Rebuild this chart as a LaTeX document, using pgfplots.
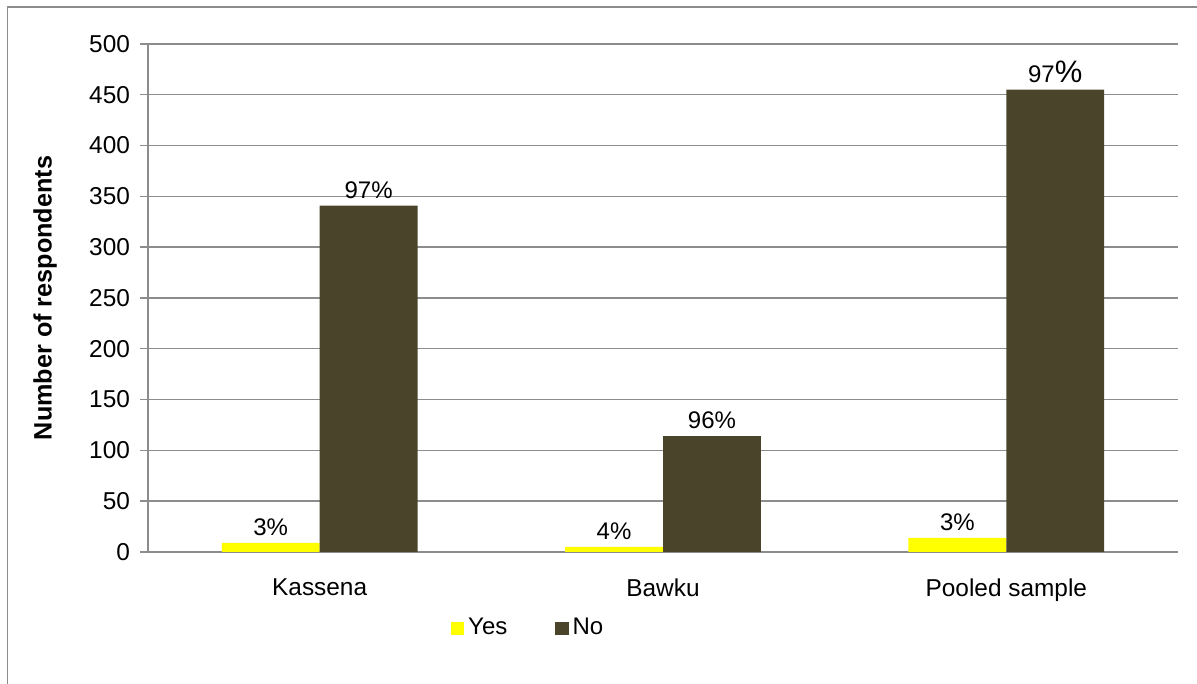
\documentclass[border=0pt]{standalone}
\usepackage{pgfplots}
\pgfplotsset{compat=1.18}
\usepackage{fontspec}
\setmainfont{Liberation Sans}
\definecolor{yescol}{HTML}{FFFF00}
\definecolor{nocol}{HTML}{4A442A}
\definecolor{gridgray}{HTML}{8C8C8C}
\begin{document}
\begin{tikzpicture}
\path[use as bounding box] (0,0) rectangle (598.5pt,342pt);
\draw[gridgray, line width=0.7pt] (3.75pt,0) -- (3.75pt,338.5pt) -- (598.5pt,338.5pt);
\begin{axis}[
  at={(74pt,66pt)}, anchor=south west,
  scale only axis,
  width=515pt, height=254pt,
  ybar=0pt, bar width=0.285,
  xmin=-0.5, xmax=2.5,
  ymin=0, ymax=500,
  ytick={0,50,...,500},
  xtick={0,1,2},
  xticklabels={Kassena,Bawku,Pooled sample},
  extra x ticks={-0.5,0.5,1.5,2.5},
  extra x tick labels={},
  extra x tick style={major tick length=4pt, tick style={gridgray, line width=0.7pt}},
  x tick style={draw=none},
  y tick style={gridgray, line width=0.7pt},
  major tick length=4pt,
  tick align=outside,
  axis x line*=bottom, axis y line*=left,
  axis line style={gridgray, line width=0.7pt, -},
  ymajorgrids, grid style={gridgray, line width=0.7pt},
  font=\fontsize{12}{14}\selectfont,
  ticklabel style={font=\fontsize{12.2}{14}\selectfont},
  /pgf/number format/assume math mode=true,
  yticklabel style={xshift=-1.5pt},
  xticklabel style={yshift=-6pt},
  ylabel={\bfseries Number of respondents},
  ylabel style={font=\fontsize{12.6}{14}\selectfont, at={(-0.1,0.5)}, anchor=center},
  point meta=explicit symbolic,
  nodes near coords={\pgfplotspointmeta},
  nodes near coords style={font=\fontsize{12}{14}\selectfont, black, yshift=0pt},
  legend style={at={(0.37,-0.15)}, anchor=center, draw=none, legend columns=2,
    font=\fontsize{12}{14}\selectfont, /tikz/every even column/.append style={column sep=22pt}},
  legend image code/.code={\fill[#1] (0pt,-3.3pt) rectangle (6.6pt,3.3pt);},
]
\addplot[fill=yescol, draw=none] coordinates {(0,9) [3\%] (1,5) [4\%] (2,14) [3\%]};
\addplot[fill=nocol, draw=none] coordinates {(0,341) [97\%] (1,114) [96\%] (2,455) [{97{\fontsize{15.5}{16}\selectfont\%}}]};
\legend{Yes,No}
\end{axis}
\end{tikzpicture}
\end{document}
